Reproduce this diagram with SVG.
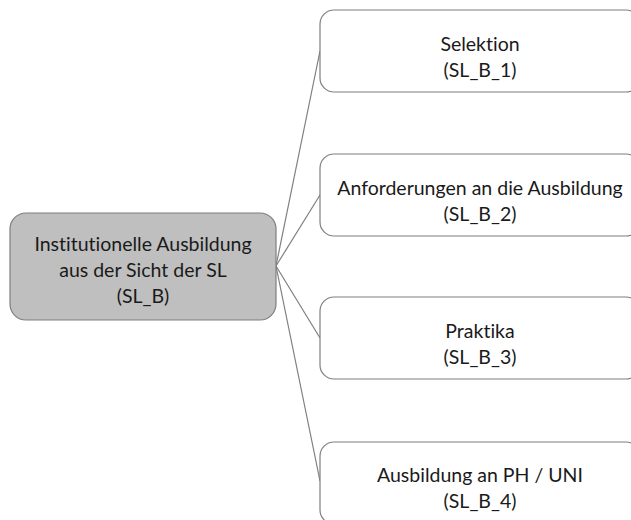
<svg xmlns="http://www.w3.org/2000/svg" width="631" height="520" viewBox="0 0 631 520">
<style>
.box{fill:#ffffff;stroke:#7f7f7f;stroke-width:1.2}
.root{fill:#bfbfbf;stroke:#7f7f7f;stroke-width:1.2}
.t{font-family:Lato,"Open Sans",sans-serif;font-size:19.5px;fill:#1a1a1a;text-anchor:middle;font-variant-ligatures:none}
.c{stroke:#7f7f7f;stroke-width:1.2;fill:none}
</style>
<rect width="631" height="520" fill="#ffffff"/>
<g id="connectors">
<line class="c" x1="276" y1="266" x2="320" y2="51"/>
<line class="c" x1="276" y1="266" x2="320" y2="195"/>
<line class="c" x1="276" y1="266" x2="320" y2="338"/>
<line class="c" x1="276" y1="266" x2="320" y2="481"/>
</g>
<g id="root">
<rect class="root" x="10" y="213" width="266" height="107" rx="16"/>
<text class="t" x="143" y="251">Institutionelle Ausbildung</text>
<text class="t" x="143" y="277">aus der Sicht der SL</text>
<text class="t" x="143" y="303">(SL_B)</text>
</g>
<g id="n1">
<rect class="box" x="320" y="10" width="320" height="82" rx="14"/>
<text class="t" x="480" y="51">Selektion</text>
<text class="t" x="480" y="77">(SL_B_1)</text>
</g>
<g id="n2">
<rect class="box" x="320" y="154" width="320" height="82" rx="14"/>
<text class="t" x="480" y="195">Anforderungen an die Ausbildung</text>
<text class="t" x="480" y="221">(SL_B_2)</text>
</g>
<g id="n3">
<rect class="box" x="320" y="297" width="320" height="82" rx="14"/>
<text class="t" x="480" y="338">Praktika</text>
<text class="t" x="480" y="364">(SL_B_3)</text>
</g>
<g id="n4">
<rect class="box" x="320" y="442" width="320" height="82" rx="14"/>
<text class="t" x="480" y="482">Ausbildung an PH / UNI</text>
<text class="t" x="480" y="508">(SL_B_4)</text>
</g>
</svg>
